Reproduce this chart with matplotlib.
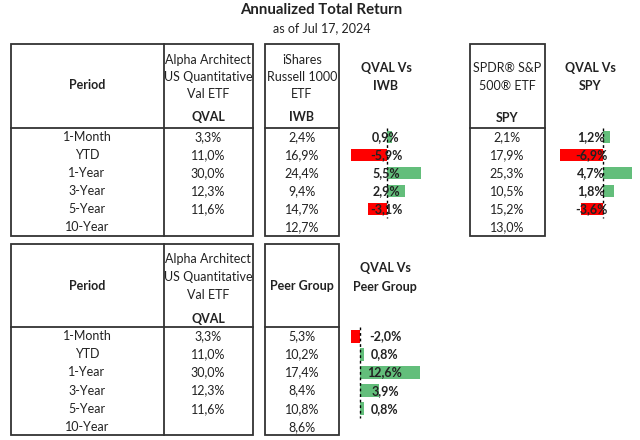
import matplotlib
matplotlib.use("Agg")
import matplotlib.pyplot as plt
from matplotlib.patches import Rectangle

plt.rcParams['font.family'] = ['Lato', 'DejaVu Sans']

# table data
periods = ["1-Month", "YTD", "1-Year", "3-Year", "5-Year", "10-Year"]
qval = [3.3, 11.0, 30.0, 12.3, 11.6, None]
iwb = [2.4, 16.9, 24.4, 9.4, 14.7, 12.7]
spy = [2.1, 17.9, 25.3, 10.5, 15.2, 13.0]
peer = [5.3, 10.2, 17.4, 8.4, 10.8, 8.6]
qval_vs_iwb = [0.9, -5.9, 5.5, 2.9, -3.1, None]
qval_vs_spy = [1.2, -6.9, 4.7, 1.8, -3.6, None]
qval_vs_peer = [-2.0, 0.8, 12.6, 3.9, 0.8, None]

qval_name = ["Alpha Architect", "US Quantitative", "Val ETF"]
iwb_name = ["iShares", "Russell 1000", "ETF"]
spy_name = ["SPDR\u00ae S&P", "500\u00ae ETF"]

TXT = '#222222'
LINE = '#333333'
GREEN = '#63BE7B'
RED = '#FF0000'
FS = 9.0


def fmt(v):
    return '' if v is None else f"{v:.1f}".replace('.', ',') + '%'


W, H = 640, 440
fig = plt.figure(figsize=(6.4, 4.4), dpi=100)
ax = fig.add_axes([0, 0, 1, 1])
ax.set_xlim(0, W)
ax.set_ylim(H, 0)
ax.axis('off')

ax.text(321, 10, "Annualized Total Return", ha='center', va='center',
        fontsize=10.8, fontweight='bold', color=TXT)
ax.text(322, 28, "as of Jul 17, 2024", ha='center', va='center', fontsize=FS, color=TXT)


def box(x0, x1, y0, y1, hline, vlines=()):
    ax.add_patch(Rectangle((x0, y0), x1 - x0, y1 - y0, fill=False, ec=LINE, lw=1.3))
    ax.plot([x0, x1], [hline, hline], color=LINE, lw=1.3)
    for vx in vlines:
        ax.plot([vx, vx], [y0, y1], color=LINE, lw=1.3)


def col_text(cx, ys, vals, bold=False):
    for y, v in zip(ys, vals):
        t = v if isinstance(v, str) else fmt(v)
        ax.text(cx, y, t, ha='center', va='center', fontsize=FS, color=TXT,
                fontweight='bold' if bold else 'normal')


def bar_col(vals, axis_px, scale, y_top, row_h, label_cx):
    left, right = axis_px - 60, axis_px + 70
    n = len(vals)
    bx = fig.add_axes([left / W, 1 - (y_top + n * row_h) / H,
                       (right - left) / W, n * row_h / H])
    bx.set_xlim((left - axis_px) / scale, (right - axis_px) / scale)
    bx.set_ylim(n - 0.5, -0.5)
    bx.axis('off')
    idx = [i for i, v in enumerate(vals) if v is not None]
    vv = [vals[i] for i in idx]
    bx.barh(idx, vv, height=0.72, color=[GREEN if v > 0 else RED for v in vv])
    bx.vlines(0, -0.5, max(idx) + 0.5, colors='k', linestyles=(0, (2, 2)), lw=1)
    tr = bx.get_yaxis_transform()
    fx = (label_cx - left) / (right - left)
    for i in idx:
        bx.text(fx, i, fmt(vals[i]), transform=tr, ha='center', va='center',
                fontsize=FS, fontweight='bold', color=TXT)


# ---- top table
top_rows = [137 + 18 * i for i in range(6)]
box(11, 253, 44, 236, 128, vlines=(164,))
box(265, 339, 44, 236, 128)
box(470, 545, 44, 236, 128)
ax.text(87, 85, "Period", ha='center', va='center', fontsize=FS, fontweight='bold', color=TXT)
col_text(208, [60, 77, 94], qval_name)
ax.text(208, 117, "QVAL", ha='center', va='center', fontsize=FS, fontweight='bold', color=TXT)
col_text(302, [60, 77, 94], iwb_name)
ax.text(302, 117, "IWB", ha='center', va='center', fontsize=FS, fontweight='bold', color=TXT)
col_text(386, [68, 86], ["QVAL Vs", "IWB"], bold=True)
col_text(507, [68, 86], spy_name)
ax.text(507, 118, "SPY", ha='center', va='center', fontsize=FS, fontweight='bold', color=TXT)
col_text(590, [68, 86], ["QVAL Vs", "SPY"], bold=True)
col_text(87, top_rows, periods)
col_text(208, top_rows, qval)
col_text(302, top_rows, iwb)
col_text(507, top_rows, spy)
bar_col(qval_vs_iwb, 387, 6.1, 128, 18, 386)
bar_col(qval_vs_spy, 603, 6.2, 128, 18, 591)

# ---- bottom table
bot_rows = [336 + 18.2 * i for i in range(6)]
box(11, 253, 244, 435, 327, vlines=(164,))
box(265, 339, 244, 435, 327)
ax.text(87, 286, "Period", ha='center', va='center', fontsize=FS, fontweight='bold', color=TXT)
col_text(208, [259, 277, 295], qval_name)
ax.text(208, 319, "QVAL", ha='center', va='center', fontsize=FS, fontweight='bold', color=TXT)
ax.text(302, 286, "Peer Group", ha='center', va='center', fontsize=FS, fontweight='bold', color=TXT)
col_text(385, [268, 287], ["QVAL Vs", "Peer Group"], bold=True)
col_text(87, bot_rows, periods)
col_text(208, bot_rows, qval)
col_text(302, bot_rows, peer)
bar_col(qval_vs_peer, 360, 4.75, 327, 18.2, 385)

fig.savefig("out.png", dpi=100)
